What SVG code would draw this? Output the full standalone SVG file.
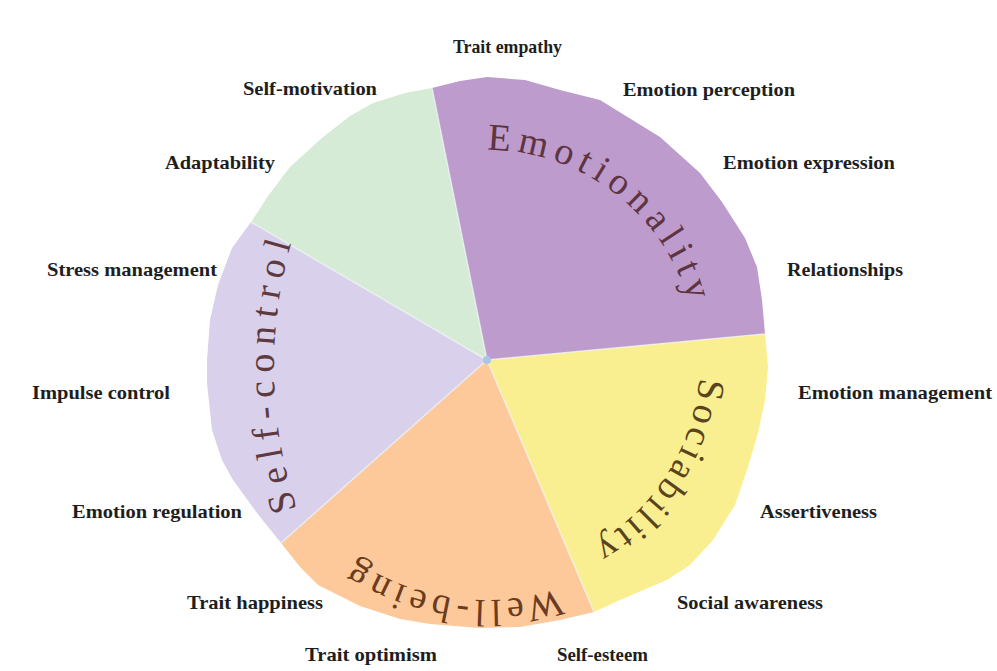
<svg xmlns="http://www.w3.org/2000/svg" width="997" height="671" viewBox="0 0 997 671">
<style>
.lbl{font-family:"Liberation Serif","Times New Roman",serif;font-weight:bold;font-size:19px;fill:#1e1e1e;text-anchor:start}
.arc{font-family:"Liberation Serif","Times New Roman",serif;font-size:38px}
</style>
<defs>
<path id="pEmo" d="M487,150 A210,210 0 0 1 693.8,396.5"/>
<path id="pSoc" d="M699.3,377.8 A213,213 0 0 1 524,569.8"/>
<path id="pWell" d="M559.6,588.8 A240,240 0 0 1 279.2,480"/>
<path id="pSelf" d="M297,509 A450,450 0 0 1 304,205"/>
</defs>
<rect width="997" height="671" fill="#ffffff"/>
<g id="sector-emotionality">
<polygon fill="#bd9bcd" points="487,360 432,88 460,81 487,77 525,80 560,90 600,100 660,137 700,173 722,202 745,238 757,267 762,300 765,334"/>
</g>
<g id="sector-sociability">
<polygon fill="#faef90" points="487,360 765,334 768,367 765,400 758,433 748,467 735,505 713,540 690,565 667,580 620,600 594,612"/>
</g>
<g id="sector-wellbeing">
<polygon fill="#fdc99b" points="487,360 594,612 560,620 520,627 480,628 430,624 400,619 360,606 318,585 300,567 281,543"/>
</g>
<g id="sector-selfcontrol">
<polygon fill="#d9d1eb" points="487,360 281,543 257,513 233,480 222,460 212,430 207,383 207,360 210,320 218,285 232,248 251,222"/>
</g>
<g id="sector-other">
<polygon fill="#d5ebd6" points="487,360 251,222 268,196 290,167 323,137 350,116 373,103 405,93 432,88"/>
</g>
<g id="connectors" stroke="#eef3f7" stroke-width="1.5" stroke-opacity="0.7" fill="none">
<line x1="487" y1="360" x2="432" y2="88"/>
<line x1="487" y1="360" x2="765" y2="334"/>
<line x1="487" y1="360" x2="594" y2="612"/>
<line x1="487" y1="360" x2="281" y2="543"/>
<line x1="487" y1="360" x2="251" y2="222"/>
</g>
<circle cx="487" cy="360" r="4" fill="#a9c6e6"/>
<g id="factor-labels">
<text class="arc" fill="#5e3440" letter-spacing="6.5"><textPath href="#pEmo">Emotionality</textPath></text>
<text class="arc" fill="#5a4420" letter-spacing="4"><textPath href="#pSoc">Sociability</textPath></text>
<text class="arc" fill="#6a3c22" letter-spacing="5"><textPath href="#pWell">Well-being</textPath></text>
<text class="arc" fill="#5e3a3e" letter-spacing="8"><textPath href="#pSelf">Self-control</textPath></text>
</g>
<g id="facet-labels">
<text class="lbl" x="453" y="53" textLength="109" lengthAdjust="spacingAndGlyphs">Trait empathy</text>
<text class="lbl" x="243" y="95" textLength="134" lengthAdjust="spacingAndGlyphs">Self-motivation</text>
<text class="lbl" x="165" y="169" textLength="110" lengthAdjust="spacingAndGlyphs">Adaptability</text>
<text class="lbl" x="623" y="96" textLength="172" lengthAdjust="spacingAndGlyphs">Emotion perception</text>
<text class="lbl" x="723" y="169" textLength="172" lengthAdjust="spacingAndGlyphs">Emotion expression</text>
<text class="lbl" x="787" y="276" textLength="116" lengthAdjust="spacingAndGlyphs">Relationships</text>
<text class="lbl" x="47" y="276" textLength="170" lengthAdjust="spacingAndGlyphs">Stress management</text>
<text class="lbl" x="32" y="399" textLength="138" lengthAdjust="spacingAndGlyphs">Impulse control</text>
<text class="lbl" x="72" y="518" textLength="170" lengthAdjust="spacingAndGlyphs">Emotion regulation</text>
<text class="lbl" x="187" y="609" textLength="136" lengthAdjust="spacingAndGlyphs">Trait happiness</text>
<text class="lbl" x="305" y="661" textLength="132" lengthAdjust="spacingAndGlyphs">Trait optimism</text>
<text class="lbl" x="557" y="661" textLength="91" lengthAdjust="spacingAndGlyphs">Self-esteem</text>
<text class="lbl" x="677" y="609" textLength="146" lengthAdjust="spacingAndGlyphs">Social awareness</text>
<text class="lbl" x="760" y="518" textLength="117" lengthAdjust="spacingAndGlyphs">Assertiveness</text>
<text class="lbl" x="798" y="399" textLength="194" lengthAdjust="spacingAndGlyphs">Emotion management</text>
</g>
</svg>
